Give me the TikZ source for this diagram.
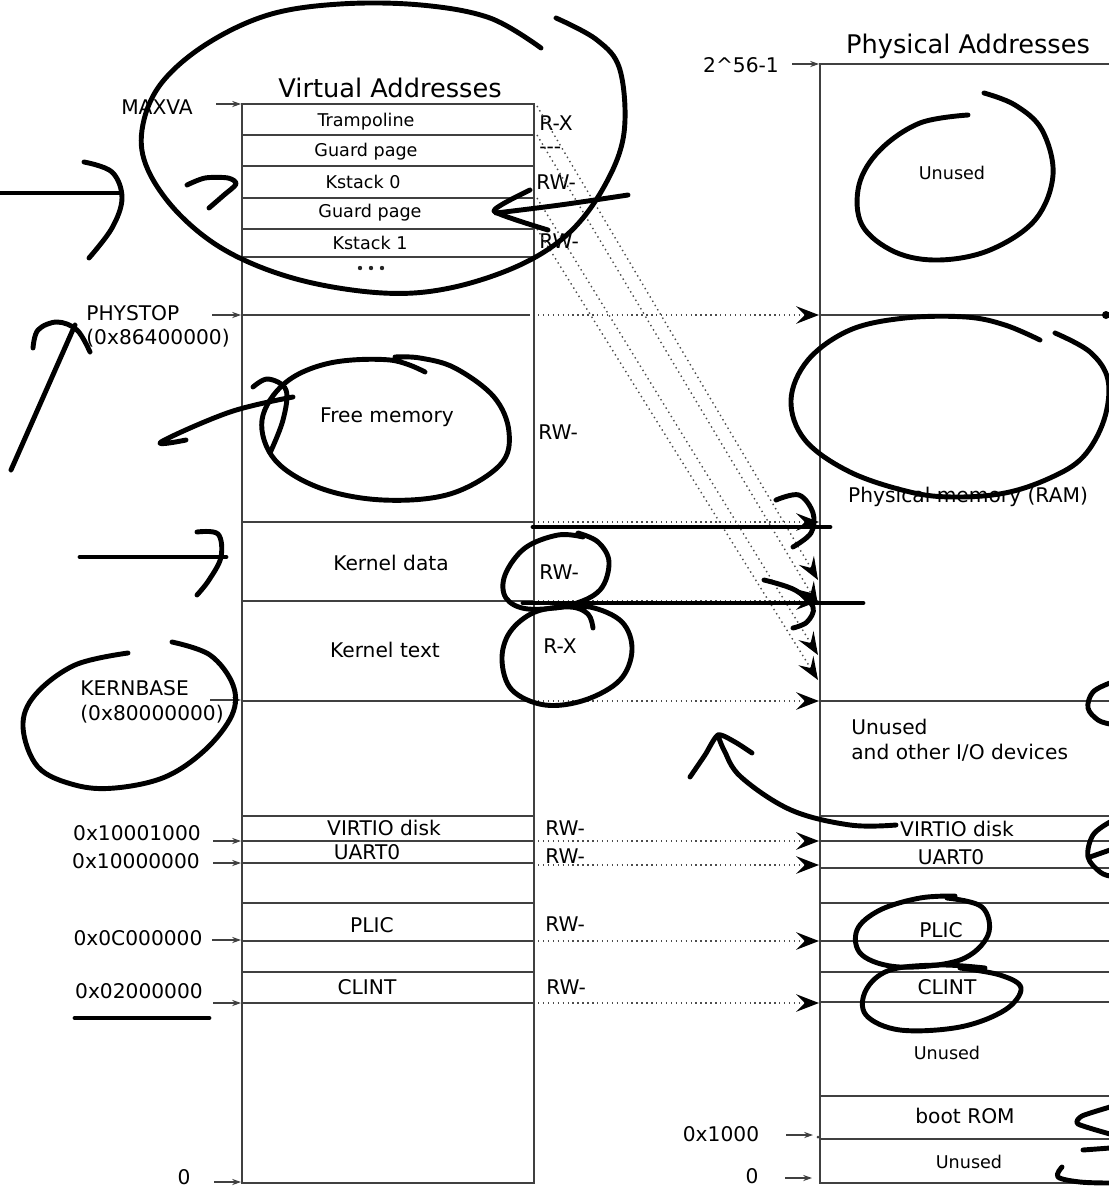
\documentclass[tikz,border=0pt]{standalone}
\usepackage{fontspec}
\setmainfont{DejaVu Sans}
\usetikzlibrary{arrows.meta, positioning, calc}

\tikzset{
  mem/.style={draw=black!75, line width=0.9pt},
  small/.style={font=\fontsize{10}{12}\selectfont, inner sep=0pt},
  mid/.style={font=\fontsize{11.5}{14}\selectfont, inner sep=0pt},
  heading/.style={font=\fontsize{14.6}{17}\selectfont, inner sep=0pt},
  addr/.style={draw=black!75, line width=0.6pt, -{Stealth[length=5pt,width=3.5pt]}},
  map/.style={black!70, line width=0.8pt, dotted, -{Stealth[length=13pt,width=10pt,inset=5pt,color=black]}},
  ink/.style={line width=2.8pt, line cap=round, line join=round},
}

\begin{document}
\begin{tikzpicture}[x=0.02cm, y=-0.02cm]
    \useasboundingbox (0,0) rectangle (1109,1191);
    \clip (0,0) rectangle (1109,1191);

    % virtual address space
    \node[heading] (vtitle) at (390,88) {Virtual Addresses};
    \draw[mem] (242,104) rectangle (534,1183);
    \foreach \y in {135,166,198,229,257,522,601,701,816,841,863,903,941,972,1003}
        \draw[mem] (242,\y) -- (534,\y);
    \draw[mem] (242,315) -- (530,315);

    \node[small] (tramp) at (366,122) {Trampoline};
    \node[small] (guard0) at (366,152) {Guard page};
    \node[small] (kstack0) at (363,182) {Kstack 0};
    \node[small] (guard1) at (370,213) {Guard page};
    \node[small] (kstack1) at (370,243) {Kstack 1};
    \foreach \x in {360,371,382}
        \fill[black!85] (\x,268) circle (2.2);
    \node[mid] (freemem) at (387,417) {Free memory};
    \node[mid] (kdata) at (391,563) {Kernel data};
    \node[mid] (ktext) at (385,650) {Kernel text};
    \node[mid] (vvirtio) at (384,828) {VIRTIO disk};
    \node[mid] (vuart) at (367,852) {UART0};
    \node[mid] (vplic) at (372,925) {PLIC};
    \node[mid] (vclint) at (367,987) {CLINT};

    % permissions
    \node[mid, anchor=west] (p1) at (539,123) {R-X};
    \node[mid, anchor=west] (p2) at (539,150) {-{}-{}-};
    \node[mid, anchor=west] (p3) at (536,182) {RW-};
    \node[mid, anchor=west] (p4) at (539,241) {RW-};
    \node[mid, anchor=west] (p5) at (538,432) {RW-};
    \node[mid, anchor=west] (p6) at (539,572) {RW-};
    \node[mid, anchor=west] (p7) at (543,646) {R-X};
    \node[mid, anchor=west] (p8) at (545,828) {RW-};
    \node[mid, anchor=west] (p9) at (545,856) {RW-};
    \node[mid, anchor=west] (p10) at (545,924) {RW-};
    \node[mid, anchor=west] (p11) at (546,987) {RW-};

    % virtual addresses
    \node[mid] (maxva) at (157,107) {MAXVA};
    \node[mid, anchor=west] (phystop) at (86,313) {PHYSTOP};
    \node[mid, anchor=west] (phystopv) at (86,338) {(0x86400000)};
    \node[mid, anchor=west] (kernbase) at (80,688) {KERNBASE};
    \node[mid, anchor=west] (kernbasev) at (80,714) {(0x80000000)};
    \node[mid] (avirtio) at (137,833) {0x10001000};
    \node[mid] (auart) at (136,861) {0x10000000};
    \node[mid] (aplic) at (138,938) {0x0C000000};
    \node[mid] (aclint) at (139,991) {0x02000000};
    \node[mid] (azero) at (184,1177) {0};

    \foreach \n/\y/\s in {maxva/104/216, phystop/315/212, kernbase/700/210, virtio/841/213, uart/863/213, plic/940/212, clint/1003/213, zero/1182/214} {
        \coordinate (\n-from) at (\s,\y);
        \coordinate (\n-to) at (241,\y);
        \draw[addr] (\n-from) -- (\n-to);
    }

    % physical address space
    \node[heading] (ptitle) at (968,46) {Physical Addresses};
    \draw[mem] (1130,64) -- (820,64) -- (820,1183) -- (1130,1183);
    \foreach \y in {315,701,816,841,868,903,941,972,1002,1096,1139}
        \draw[mem] (820,\y) -- (1130,\y);

    \node[small] (unused0) at (952,173) {Unused};
    \node[mid] (ram) at (968,497) {Physical memory (RAM)};
    \node[mid, anchor=west, align=left] (iodev) at (851,740) {Unused\\and other I/O devices};
    \node[mid] (pvirtio) at (957,829) {VIRTIO disk};
    \node[mid] (puart) at (951,857) {UART0};
    \node[mid] (pplic) at (941,930) {PLIC};
    \node[mid] (pclint) at (947,987) {CLINT};
    \node[small] (unused1) at (947,1053) {Unused};
    \node[mid] (bootrom) at (965,1116) {boot ROM};
    \node[small] (unused2) at (969,1162) {Unused};

    \node[mid] (atop) at (741,65) {2\textasciicircum 56-1};
    \node[mid] (aboot) at (721,1134) {0x1000};
    \node[mid] (pzero) at (752,1176) {0};
    \coordinate (top-from) at (792,64);   \coordinate (top-to) at (819,64);
    \coordinate (boot-from) at (786,1135); \coordinate (boot-to) at (813,1135);
    \coordinate (pzero-from) at (785,1178); \coordinate (pzero-to) at (812,1178);
    \draw[addr] (top-from) -- (top-to);
    \draw[addr] (boot-from) -- (boot-to);
    \draw[addr] (pzero-from) -- (pzero-to);
    \fill[black!75] (818,1137) circle (1.5);

    % mappings
    \foreach \n/\y in {a/315,b/522,c/601,d/701,e/841,f/865,g/941,h/1003} {
        \coordinate (v\n) at (538,\y);
        \coordinate (p\n) at (819,\y);
        \draw[map] (v\n) -- (p\n);
    }
    \foreach \n/\a/\b in {k/106/580,l/135/605,m/198/655,n/229/680} {
        \coordinate (v\n) at (537,\a);
        \coordinate (p\n) at (818,\b);
        \draw[map] (v\n) -- (p\n);
    }

    % pen marks
    \draw[ink] plot[smooth, tension=0.6] coordinates {(556,18) (597,40) (620,70) (624,133) (605,185) (570,232) (520,265) (450,288) (383,293) (300,280) (230,253) (180,215) (148,170) (142,130) (160,85) (205,45) (268,15) (340,4) (421,5) (490,18) (541,48)};
    \draw[ink] (0,193) -- (119,193);
    \draw[ink] plot[smooth, tension=0.6] coordinates {(84,162) (112,172) (122,198) (112,228) (89,258)};
    \draw[ink] plot[smooth, tension=0.5] coordinates {(187,185) (205,178) (228,178) (236,184) (224,195) (209,208)};
    \draw[ink] plot[smooth, tension=0.3] coordinates {(530,190) (494,211) (548,230)};
    \draw[ink] plot[smooth, tension=0.6] coordinates {(496,213) (560,205) (628,195)};
    \draw[ink] plot[smooth, tension=0.6] coordinates {(968,115) (920,123) (880,150) (859,185) (862,225) (895,252) (939,260) (990,250) (1035,220) (1053,175) (1042,130) (1015,105) (984,93)};
    \draw[ink] plot[smooth, tension=0.6] coordinates {(425,372) (390,360) (330,363) (285,383) (262,420) (275,460) (320,488) (383,500) (450,494) (500,465) (509,432) (494,397) (455,368) (420,358) (395,357)};
    \draw[ink] plot[smooth, tension=0.6] coordinates {(186,440) (161,442) (230,412) (293,397)};
    \draw[ink] plot[smooth, tension=0.6] coordinates {(253,387) (268,379) (286,390) (283,420) (270,453)};
    \draw[ink] (11,470) -- (75,325);
    \draw[ink] plot[smooth, tension=0.6] coordinates {(33,348) (38,330) (57,322) (77,330) (90,352)};
    \draw[ink] (80,557) -- (226,557);
    \draw[ink] plot[smooth, tension=0.6] coordinates {(197,532) (218,534) (221,557) (209,580) (197,595)};
    \draw[ink] plot[smooth, tension=0.6] coordinates {(128,653) (75,665) (35,695) (23,727) (38,767) (75,785) (115,788) (165,777) (205,750) (232,715) (233,685) (210,655) (172,642)};
    \draw[ink] (533,527) -- (830,527);
    \draw[ink] (523,603) -- (863,603);
    \draw[ink] plot[smooth, tension=0.6] coordinates {(776,500) (799,495) (813,513) (811,533) (793,547)};
    \draw[ink] plot[smooth, tension=0.6] coordinates {(764,580) (795,590) (813,607) (807,622) (793,628)};
    \draw[ink] plot[smooth, tension=0.6] coordinates {(583,537) (558,535) (525,548) (505,575) (506,598) (528,609) (570,605) (600,590) (609,562) (598,542) (578,533)};
    \draw[ink] plot[smooth, tension=0.6] coordinates {(593,628) (588,614) (570,607) (535,612) (510,632) (502,660) (512,690) (545,705) (585,700) (620,680) (632,650) (622,622) (590,607) (555,608)};
    \draw[ink] plot[smooth, tension=0.6] coordinates {(896,825) (850,825) (791,810) (741,777) (724,750) (718,735)};
    \draw[ink] plot[smooth, tension=0.4] coordinates {(690,777) (705,755) (718,735) (735,742) (752,753)};
    \draw[ink] plot[smooth, tension=0.6] coordinates {(947,898) (982,907) (988,935) (960,960) (900,967) (862,955) (857,930) (880,910) (920,898) (955,896)};
    \draw[ink] plot[smooth, tension=0.6] coordinates {(985,968) (940,965) (890,970) (866,990) (866,1015) (900,1030) (960,1027) (1005,1010) (1021,988) (1000,975) (960,968)};
    \draw[ink] plot[smooth, tension=0.6] coordinates {(1040,340) (1005,325) (966,317) (905,318) (850,330) (808,360) (791,400) (805,440) (850,472) (910,492) (954,497) (1005,493) (1050,478) (1083,457) (1104,420) (1108,380) (1090,352) (1055,333)};
    \draw[ink] plot[smooth, tension=0.6] coordinates {(1110,683) (1093,692) (1088,708) (1098,720) (1110,724)};
    \draw[ink] plot[smooth, tension=0.6] coordinates {(1110,822) (1093,835) (1088,857) (1100,872) (1110,876)};
    \draw[ink] (1090,857) -- (1110,850);
    \draw[ink] plot[smooth, tension=0.4] coordinates {(1110,1107) (1082,1116) (1078,1124) (1110,1134)};
    \draw[ink] (1083,1150) -- (1110,1148);
    \draw[ink] plot[smooth, tension=0.6] coordinates {(1062,1167) (1058,1177) (1080,1182) (1110,1183)};
    \fill (1106,315) circle (4);
    \draw[ink] (75,1018) -- (209,1018);
\end{tikzpicture}
\end{document}
